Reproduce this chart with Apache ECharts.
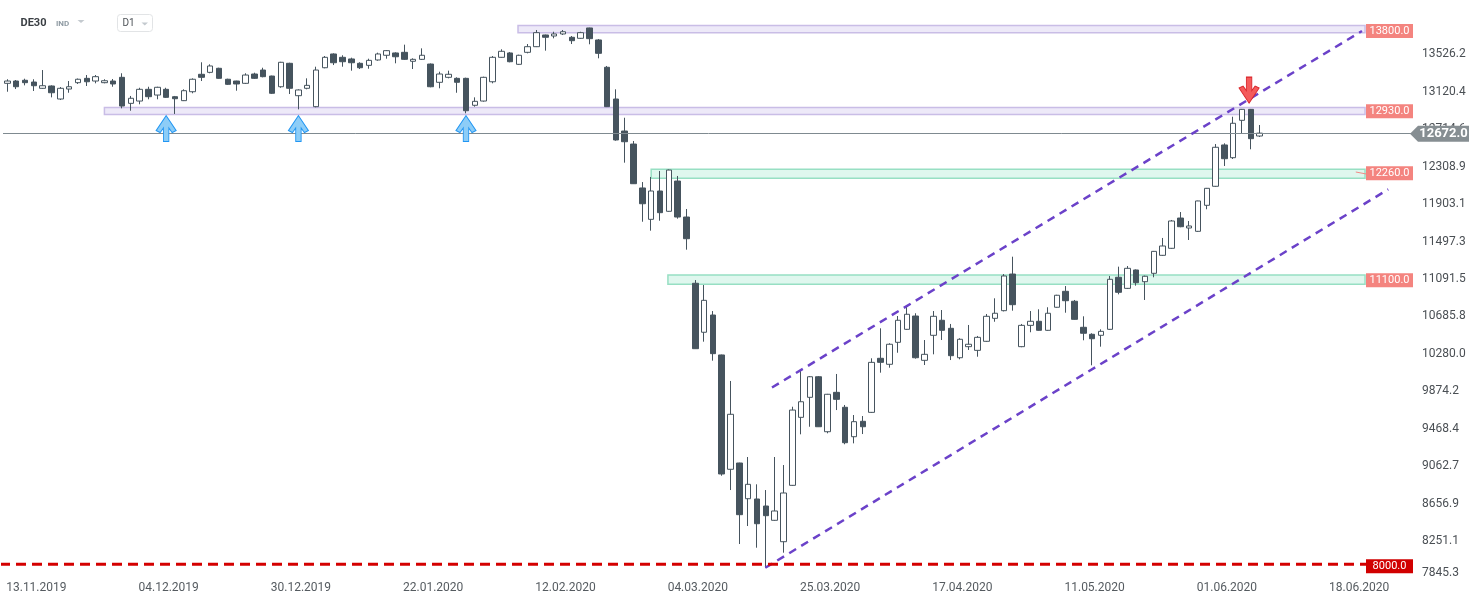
<!DOCTYPE html>
<html><head><meta charset="utf-8">
<script src="https://cdn.jsdelivr.net/npm/echarts@6/dist/echarts.min.js"></script>
<style>html,body{margin:0;padding:0;background:#fff}#c{width:1482px;height:604px}</style>
</head><body><div id="c"></div>
<script>
// ---------- DATA ----------
const opens = [13212,13237,13245,13226,13158,13183,13042,13150,13219,13266,
13237,13219,13237,13277,12995,13020,13147,13085,13147,13067,
13024,13121,13310,13331,13375,13256,13237,13212,13313,13356,
13291,13175,13429,13078,13158,12959,13381,13530,13494,13476,
13429,13407,13465,13516,13541,13548,13451,13472,13421,13223,
13277,13266,13266,12974,13020,13229,13494,13541,13418,13548,
13609,13736,13725,13747,13711,13700,13812,13682,13386,13042,
12695,12554,12078,11738,12045,11825,12153,11763,11045,10514,
10701,10268,9029,9097,8710,8707,8631,8476,8244,8855,
9592,9809,10032,9436,9863,9701,9382,9549,9646,10232,
10167,10405,10546,10690,10210,10481,10644,10557,10238,10358,
10318,10416,10665,10748,11145,10358,10589,10633,10535,10785,
10958,10850,10568,10492,10481,10546,11110,10990,11189,11062,
11153,11348,11424,11752,11644,11608,11890,12096,12544,12406,
12811,12930,12641];
const closes = [13237,13175,13219,13186,13186,13110,13158,13175,13256,13229,
13284,13240,13205,12966,13050,13147,13067,13169,13060,13045,
13132,13256,13277,13400,13266,13201,13205,13302,13266,13284,
13104,13440,13158,13140,13190,13356,13494,13435,13446,13435,
13381,13461,13530,13566,13500,13472,13472,13516,13175,13313,
13310,13223,12915,13017,13277,13494,13559,13446,13516,13609,
13761,13711,13747,13771,13674,13761,13696,13537,12959,12598,
12579,12124,11907,12045,11810,12272,11763,11528,10336,10860,
10282,8978,9625,8537,8866,8439,8526,8577,8772,9671,
9761,10032,9490,9842,9787,9317,9545,9490,10188,10188,
10384,10644,10709,10238,10275,10687,10535,10260,10438,10384,
10459,10687,10720,11124,10813,10589,10633,10535,10720,10915,
10856,10654,10503,10444,10524,11088,10947,11207,11051,11121,
11391,11449,11720,11658,11666,11937,12074,12519,12395,12779,
12930,12612,12672];
const lows = [13121,13150,13190,13129,13153,13060,13031,13110,13205,13183,
13212,13212,13175,12941,12915,12985,13039,13039,13053,12880,
13020,13104,13237,13321,13262,13194,13132,13205,13259,13277,
13096,13164,13096,12930,13147,12952,13375,13410,13392,13349,
13367,13370,13457,13479,13429,13465,13367,13465,13169,13158,
13266,13110,12887,12959,13013,13212,13490,13440,13412,13537,
13605,13566,13700,13736,13638,13695,13635,13483,12955,12590,
12352,12121,11712,11615,11723,11820,11745,11409,10333,10412,
10206,8959,8804,8219,8414,8179,7962,8470,8125,8850,
9408,9490,9487,9419,9671,9300,9310,9411,9640,10076,
10130,10292,10540,10228,10159,10275,10430,10213,10221,10322,
10249,10410,10628,10740,10748,10352,10514,10530,10530,10780,
10726,10650,10427,10156,10358,10540,10925,10983,11019,10864,
11110,11342,11418,11652,11514,11602,11847,12090,12316,12392,
12663,12497,12630];
const highs = [13256,13248,13262,13256,13356,13190,13172,13237,13264,13302,
13302,13256,13259,13321,13075,13164,13175,13175,13164,13075,
13147,13266,13440,13418,13381,13262,13240,13321,13327,13381,
13295,13445,13435,13147,13266,13392,13508,13537,13516,13490,
13440,13479,13544,13573,13548,13631,13483,13591,13427,13338,
13349,13277,13273,13060,13284,13508,13581,13551,13522,13638,
13790,13740,13771,13790,13725,13771,13815,13692,13400,13147,
12839,12587,12142,12197,12262,12278,12208,11850,11080,11026,
10744,10272,9986,9100,9162,8866,8804,9162,9075,9707,
10105,10040,10040,9846,10062,9726,9617,9606,10232,10557,
10395,10690,10791,10720,10430,10744,10755,10604,10449,10593,
10474,10712,10882,11145,11333,10604,10744,10763,10785,10920,
11015,10864,10687,10503,10546,11124,11225,11232,11195,11128,
11395,11536,11731,11817,11720,11940,12078,12554,12562,12850,
12934,12934,12760];

// x axis: candle slots (incl. empty future slots) and date tick labels
const totalSlots = 160;
const dateLabels = ['13.11.2019','04.12.2019','30.12.2019','22.01.2020','12.02.2020','04.03.2020',
                    '25.03.2020','17.04.2020','11.05.2020','01.06.2020','18.06.2020'];
const firstLabelSlot = 3, labelEvery = 15;

// y axis ticks
const yTickStart = 7845.33, yTickStep = 405.775, yTop = 13898.3;

// horizontal zones (price bands) and their level labels
const zoneLevels = [13800, 12930, 12260, 11100];
const zoneTops   = [13840, 12950, 12280, 11135];
const zoneBottoms= [13760, 12875, 12183, 11034];
const zoneStarts = [57.9, 11.0, 73.0, 74.9];
const zoneEnd = 153.95;
const zoneKinds = ['purple','purple','green','green'];

const supportLevel = 8000;
const currentPrice = 12672;

// trend channel (slot index, price)
const channelUpper = [[86.7, 9915], [153.6, 13779]];
const channelLower = [[85.94, 7962], [156.58, 12063]];

// markers
const upArrows = [[18, 12722], [33, 12722], [52, 12722]];
const downArrows = [[140.8, 13139]];
const stray = [[152.9, 12251], [154.1, 12229]];

// ---------- CHART ----------
const categories = Array.from({length: totalSlots}, (_, i) =>
  (i >= firstLabelSlot && (i - firstLabelSlot) % labelEvery === 0) ? (dateLabels[(i - firstLabelSlot) / labelEvery] || '') : '');
const ohlc = opens.map((o, i) => [o, closes[i], lows[i], highs[i]]);

const DARK = '#46545e';
const FONT = 'Roboto';
const zoneStyle = {
  purple: {color: 'rgba(200,186,232,0.32)', borderColor: '#c9bde6', borderWidth: 1.5},
  green:  {color: 'rgba(150,228,200,0.30)', borderColor: '#97dfc3', borderWidth: 1.5}
};

const upPath = 'path://M10 0 L20 15 L16 17 L12.7 12.5 L12.7 26 L7.3 26 L7.3 12.5 L4 17 L0 15 Z';
const downPath = 'path://M10 26 L20 11 L16 9 L12.7 13.5 L12.7 0 L7.3 0 L7.3 13.5 L4 9 L0 11 Z';

const chart = echarts.init(document.getElementById('c'), null, {renderer: 'canvas'});
const option = {
  animation: false,
  backgroundColor: '#ffffff',
  textStyle: {fontFamily: FONT},
  grid: {left: 3, right: 68, top: 20, bottom: 25.5, outerBoundsMode: 'none'},
  xAxis: [{
    type: 'category', data: categories, boundaryGap: true,
    axisLine: {show: false}, axisTick: {show: false}, splitLine: {show: false},
    axisLabel: {interval: 0, color: '#555b60', fontSize: 12, fontFamily: FONT, margin: 3, padding: [0,0,0,5]}
  }, {
    type: 'value', min: -0.5, max: totalSlots - 0.5, show: false
  }],
  yAxis: {
    type: 'value', position: 'right', min: yTickStart, max: yTop, interval: yTickStep,
    axisLine: {show: false}, axisTick: {show: false}, splitLine: {show: false},
    axisLabel: {
      color: '#4a4f54', fontSize: 12, fontFamily: FONT, margin: 8,
      showMaxLabel: false, showMinLabel: true,
      formatter: v => Math.abs(v - yTickStart) < 1e-6 ? '{lo|' + v.toFixed(1) + '}' : v.toFixed(1),
      rich: {lo: {color: '#4a4f54', fontSize: 12, fontFamily: FONT, padding: [0, 0, 11, 0]}}
    }
  },
  series: [
    {
      type: 'candlestick', name: 'DE30', data: ohlc, barWidth: 6, z: 3,
      itemStyle: {color: '#ffffff', color0: DARK, borderColor: DARK, borderColor0: DARK, borderWidth: 1},
      markLine: {
        silent: true, symbol: 'none', animation: false,
        data: [{yAxis: currentPrice}],
        lineStyle: {color: '#7f8a90', width: 1, type: 'solid'},
        label: {show: false}
      }
    },
    {
      type: 'line', xAxisIndex: 1, data: [], z: 5,
      markArea: {
        silent: true,
        data: zoneLevels.map((lv, i) => [
          {coord: [zoneStarts[i], zoneTops[i]], itemStyle: zoneStyle[zoneKinds[i]]},
          {coord: [zoneEnd, zoneBottoms[i]]}
        ])
      }
    },
    {
      type: 'line', xAxisIndex: 1, data: channelUpper, symbol: 'none', z: 6,
      lineStyle: {color: '#6b42c9', width: 2.5, type: [8, 6]}
    },
    {
      type: 'line', xAxisIndex: 1, data: channelLower, symbol: 'none', z: 6,
      lineStyle: {color: '#6b42c9', width: 2.5, type: [8, 6]}
    },
    {
      type: 'line', xAxisIndex: 1, data: [[-0.84, supportLevel], [154.6, supportLevel]], symbol: 'none', z: 6, clip: false,
      lineStyle: {color: '#d40000', width: 3, type: [10, 6]}
    },
    {
      type: 'line', xAxisIndex: 1, data: stray, symbol: 'none', z: 6,
      lineStyle: {color: '#f28a85', width: 1}
    },
    {
      type: 'scatter', xAxisIndex: 1, data: upArrows, symbol: upPath, symbolSize: [20, 26], z: 8,
      itemStyle: {color: '#8dcdf7', borderColor: '#2196f3', borderWidth: 1, opacity: 1}
    },
    {
      type: 'scatter', xAxisIndex: 1, data: downArrows, symbol: downPath, symbolSize: [20, 26], z: 8,
      itemStyle: {color: '#f45b5b', borderColor: '#d9262b', borderWidth: 1, opacity: 1}
    }
  ]
};
chart.setOption(option);

// tags & header
const py = v => chart.convertToPixel({yAxisIndex: 0}, v);
const graphics = [];
const tagX = 1366, tagW = 47, tagH = 14;
const tagLevels = zoneLevels.concat([supportLevel]);
tagLevels.forEach((lv, i) => {
  const yc = py(lv) + 2;
  const isSupport = lv === supportLevel;
  graphics.push({type: 'rect', z: 100, shape: {x: tagX, y: yc - tagH / 2, width: tagW, height: tagH},
    style: {fill: isSupport ? '#d10000' : '#f4847f'}});
  graphics.push({type: 'text', z: 101, x: tagX + tagW / 2, y: yc,
    style: {text: lv.toFixed(1), fill: '#ffffff', font: '11px ' + FONT, align: 'center', verticalAlign: 'middle'}});
});
{
  const yc = py(currentPrice) + 0.7;
  graphics.push({type: 'polygon', z: 100, shape: {points: [[1410, yc], [1418, yc - 8], [1469, yc - 8], [1469, yc + 8], [1418, yc + 8]]},
    style: {fill: '#868e92'}});
  graphics.push({type: 'text', z: 101, x: 1443.5, y: yc,
    style: {text: currentPrice.toFixed(1), fill: '#ffffff', font: 'bold 13px ' + FONT, align: 'center', verticalAlign: 'middle'}});
}
// header
graphics.push({type: 'text', z: 100, x: 20.5, y: 23.3, style: {text: 'DE30', fill: '#3a3f44', font: 'bold 11px ' + FONT, verticalAlign: 'middle'}});
graphics.push({type: 'text', z: 100, x: 56, y: 24, style: {text: 'IND', fill: '#8f9ba3', font: 'bold 8px ' + FONT, verticalAlign: 'middle'}});
graphics.push({type: 'polygon', z: 100, shape: {points: [[77.5, 20], [84.5, 20], [81, 23]]}, style: {fill: '#c4cacf'}});
graphics.push({type: 'rect', z: 100, shape: {x: 117.5, y: 14.5, width: 35, height: 17, r: 3}, style: {fill: '#ffffff', stroke: '#e2e4e6', lineWidth: 1}});
graphics.push({type: 'text', z: 101, x: 122.5, y: 23.5, style: {text: 'D1', fill: '#4d5257', font: '10px ' + FONT, verticalAlign: 'middle'}});
graphics.push({type: 'polygon', z: 101, shape: {points: [[141.5, 22.5], [148, 22.5], [144.75, 25.5]]}, style: {fill: '#c4cacf'}});

chart.setOption({graphic: graphics});
</script>
</body></html>
